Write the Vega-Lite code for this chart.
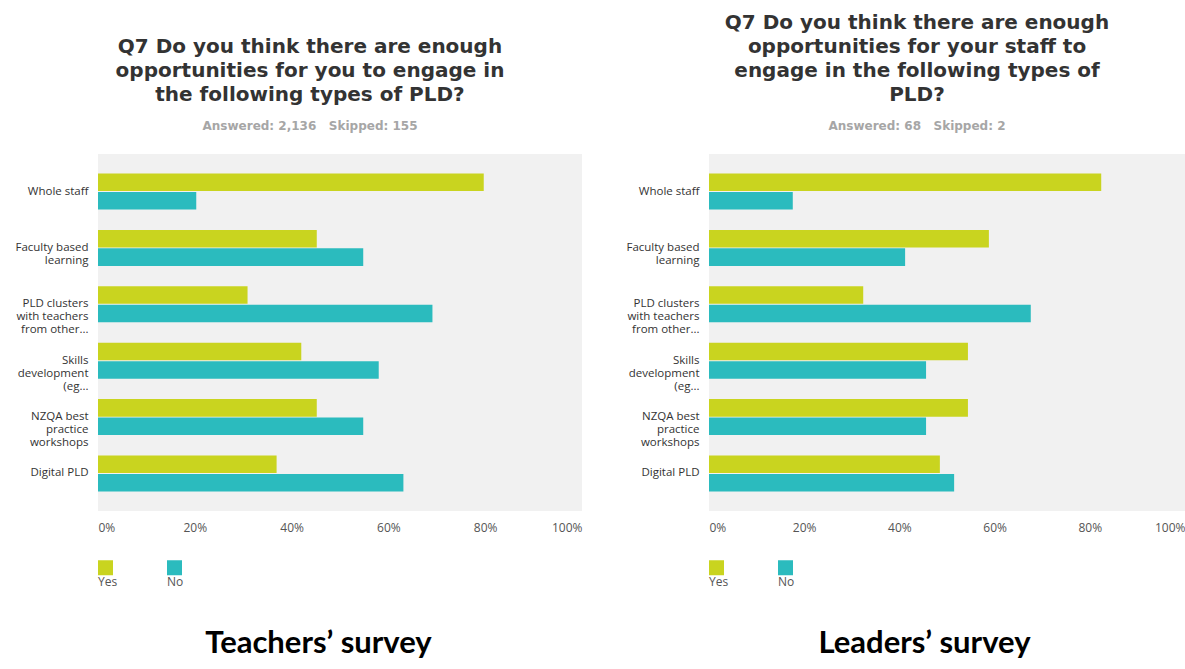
{
  "$schema": "https://vega.github.io/schema/vega-lite/v6.json",
  "background": "white",
  "padding": {"left": 14, "top": 13, "right": 0, "bottom": 0},
  "config": {
    "view": {"fill": "#f1f1f1", "stroke": null},
    "concat": {"spacing": 43},
    "axisY": {"title": null, "ticks": false, "domain": false, "grid": false, "labelFont": "Open Sans", "labelFontSize": 11.5, "labelColor": "#333333", "labelLineHeight": 13, "labelPadding": 10, "labelLimit": 200},
    "axisX": {"title": null, "ticks": false, "domain": false, "grid": false, "labelFont": "Open Sans", "labelFontSize": 12, "labelColor": "#555555", "labelPadding": 11, "labelFlush": true},
    "legend": {"orient": "bottom", "direction": "horizontal", "title": null, "symbolType": "square", "symbolSize": 225, "symbolStrokeWidth": 0, "symbolOpacity": 1, "labelFont": "Open Sans", "labelFontSize": 12, "labelColor": "#555555", "labelOffset": -15, "labelBaseline": "middle", "columnPadding": 49, "offset": 27},
    "title": {"font": "DejaVu Sans", "fontSize": 20, "fontWeight": "bold", "color": "#333333", "lineHeight": 24, "anchor": "middle", "subtitleFont": "DejaVu Sans", "subtitleFontSize": 12, "subtitleFontWeight": "bold", "subtitleColor": "#a6a6a6", "subtitlePadding": 16, "offset": 22}
  },
  "datasets": {
    "teachers": [
      {"type": "Whole staff", "answer": "Yes", "percent": 79.7},
      {"type": "Whole staff", "answer": "No", "percent": 20.3},
      {"type": "Faculty based\nlearning", "answer": "Yes", "percent": 45.2},
      {"type": "Faculty based\nlearning", "answer": "No", "percent": 54.8},
      {"type": "PLD clusters\nwith teachers\nfrom other...", "answer": "Yes", "percent": 30.9},
      {"type": "PLD clusters\nwith teachers\nfrom other...", "answer": "No", "percent": 69.1},
      {"type": "Skills\ndevelopment\n(eg...", "answer": "Yes", "percent": 42.0},
      {"type": "Skills\ndevelopment\n(eg...", "answer": "No", "percent": 58.0},
      {"type": "NZQA best\npractice\nworkshops", "answer": "Yes", "percent": 45.2},
      {"type": "NZQA best\npractice\nworkshops", "answer": "No", "percent": 54.8},
      {"type": "Digital PLD", "answer": "Yes", "percent": 36.9},
      {"type": "Digital PLD", "answer": "No", "percent": 63.1}
    ],
    "leaders": [
      {"type": "Whole staff", "answer": "Yes", "percent": 82.4},
      {"type": "Whole staff", "answer": "No", "percent": 17.6},
      {"type": "Faculty based\nlearning", "answer": "Yes", "percent": 58.8},
      {"type": "Faculty based\nlearning", "answer": "No", "percent": 41.2},
      {"type": "PLD clusters\nwith teachers\nfrom other...", "answer": "Yes", "percent": 32.4},
      {"type": "PLD clusters\nwith teachers\nfrom other...", "answer": "No", "percent": 67.6},
      {"type": "Skills\ndevelopment\n(eg...", "answer": "Yes", "percent": 54.4},
      {"type": "Skills\ndevelopment\n(eg...", "answer": "No", "percent": 45.6},
      {"type": "NZQA best\npractice\nworkshops", "answer": "Yes", "percent": 54.4},
      {"type": "NZQA best\npractice\nworkshops", "answer": "No", "percent": 45.6},
      {"type": "Digital PLD", "answer": "Yes", "percent": 48.5},
      {"type": "Digital PLD", "answer": "No", "percent": 51.5}
    ]
  },
  "resolve": {"scale": {"color": "independent", "x": "independent", "y": "independent"}, "legend": {"color": "independent"}},
  "hconcat": [
    {
      "title": {"text": "Teachers’ survey", "orient": "bottom", "frame": "bounds", "anchor": "middle", "font": "Lato", "fontSize": 31, "fontWeight": "bold", "color": "#000000", "offset": 27, "dx": 20},
      "resolve": {"scale": {"color": "independent"}, "legend": {"color": "independent"}},
      "vconcat": [
        {
          "width": 484,
          "height": 357,
          "data": {"name": "teachers"},
          "title": {"text": ["", "Q7 Do you think there are enough", "opportunities for you to engage in", "the following types of PLD?"], "subtitle": "Answered: 2,136\u00a0\u00a0\u00a0Skipped: 155", "frame": "group", "dx": -30},
          "mark": {"type": "bar"},
          "encoding": {
            "y": {"field": "type", "type": "nominal", "sort": null, "scale": {"paddingInner": 0.362, "paddingOuter": 0.346}, "axis": {"labelExpr": "split(datum.label, '\\n')"}},
            "yOffset": {"field": "answer", "type": "nominal", "sort": ["Yes", "No"], "scale": {"paddingInner": 0.05}},
            "x": {"field": "percent", "type": "quantitative", "scale": {"domain": [0, 100]}, "axis": {"values": [0, 20, 40, 60, 80, 100], "labelExpr": "datum.value + '%'"}},
            "color": {"field": "answer", "type": "nominal", "sort": ["Yes", "No"], "scale": {"domain": ["Yes", "No"], "range": ["#c9d41f", "#2bbbbe"]}, "legend": {"labelExpr": "['', '', datum.label]"}}
          }
        }
      ]
    },
    {
      "title": {"text": "Leaders’ survey", "orient": "bottom", "frame": "bounds", "anchor": "middle", "font": "Lato", "fontSize": 31, "fontWeight": "bold", "color": "#000000", "offset": 27, "dx": 19},
      "resolve": {"scale": {"color": "independent"}, "legend": {"color": "independent"}},
      "vconcat": [
        {
          "width": 476,
          "height": 357,
          "data": {"name": "leaders"},
          "title": {"text": ["Q7 Do you think there are enough", "opportunities for your staff to", "engage in the following types of", "PLD?"], "subtitle": "Answered: 68\u00a0\u00a0\u00a0Skipped: 2", "frame": "group", "dx": -30},
          "mark": {"type": "bar"},
          "encoding": {
            "y": {"field": "type", "type": "nominal", "sort": null, "scale": {"paddingInner": 0.362, "paddingOuter": 0.346}, "axis": {"labelExpr": "split(datum.label, '\\n')"}},
            "yOffset": {"field": "answer", "type": "nominal", "sort": ["Yes", "No"], "scale": {"paddingInner": 0.05}},
            "x": {"field": "percent", "type": "quantitative", "scale": {"domain": [0, 100]}, "axis": {"values": [0, 20, 40, 60, 80, 100], "labelExpr": "datum.value + '%'"}},
            "color": {"field": "answer", "type": "nominal", "sort": ["Yes", "No"], "scale": {"domain": ["Yes", "No"], "range": ["#c9d41f", "#2bbbbe"]}, "legend": {"labelExpr": "['', '', datum.label]"}}
          }
        }
      ]
    }
  ]
}
